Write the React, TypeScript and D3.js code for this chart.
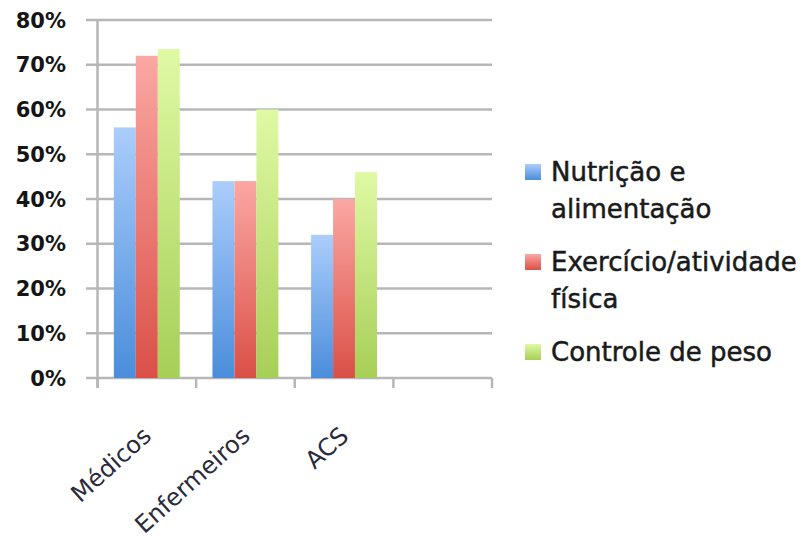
import React from "react";
import * as d3 from "d3";

const categories = ["Médicos", "Enfermeiros", "ACS", ""];
const seriesNames = ["Nutrição e alimentação", "Exercício/atividade física", "Controle de peso"];
const legendLines = [["Nutrição e", "alimentação"], ["Exercício/atividade", "física"], ["Controle de peso"]];
const nutricao = [0.56, 0.44, 0.32];
const exercicio = [0.72, 0.44, 0.40];
const controle = [0.735, 0.60, 0.46];
const yTicks = [0, 0.1, 0.2, 0.3, 0.4, 0.5, 0.6, 0.7, 0.8];

const seriesValues = [nutricao, exercicio, controle];
const colors = [
  { top: "#abcdfb", bottom: "#4a8ddb" },
  { top: "#fba7a3", bottom: "#da5047" },
  { top: "#e0f9a4", bottom: "#a6cf57" },
];

const W = 803, H = 543;
const plotLeft = 97.5, plotRight = 492, plotTop = 20, plotBottom = 378;

export default function App() {
  const x = d3.scaleBand<string>().domain(categories).range([plotLeft, plotRight]).paddingInner(0).paddingOuter(0);
  const xi = d3.scaleBand<string>().domain(seriesNames).range([0, x.bandwidth()]).paddingInner(0).paddingOuter(0.744);
  const y = d3.scaleLinear().domain([0, 0.8]).range([plotBottom, plotTop]);
  const fmt = d3.format(".0%");
  const tickXs = categories.map((c) => x(c) as number).concat([plotRight]);

  return (
    <svg width={W} height={H} style={{ position: "absolute", left: 0, top: 0, background: "#fff" }}>
      <defs>
        {colors.map((c, i) => (
          <linearGradient key={i} id={`g${i}`} x1="0" y1="0" x2="0" y2="1">
            <stop offset="0" stopColor={c.top} />
            <stop offset="1" stopColor={c.bottom} />
          </linearGradient>
        ))}
      </defs>
      {/* gridlines */}
      {yTicks.map((t) => (
        <line key={t} x1={86} x2={plotRight} y1={y(t)} y2={y(t)} stroke="#b7b7b7" strokeWidth={2.5} />
      ))}
      {/* y axis */}
      <line x1={plotLeft} x2={plotLeft} y1={plotTop} y2={plotBottom + 10} stroke="#b7b7b7" strokeWidth={2.5} />
      {tickXs.map((tx, i) => (
        <line key={i} x1={tx} x2={tx} y1={plotBottom} y2={plotBottom + 10} stroke="#b7b7b7" strokeWidth={2.5} />
      ))}
      {/* bars */}
      {seriesValues.map((vals, si) =>
        vals.map((v, ci) => (
          <rect
            key={`${si}-${ci}`}
            x={(x(categories[ci]) as number) + (xi(seriesNames[si]) as number)}
            y={y(v)}
            width={xi.bandwidth()}
            height={plotBottom - y(v)}
            fill={`url(#g${si})`}
          />
        ))
      )}
      {/* y labels */}
      {yTicks.map((t) => (
        <text key={t} x={66} y={y(t)} dy="0.36em" textAnchor="end" fontFamily="DejaVu Sans" fontWeight="bold" fontSize={21} fill="#151515">
          {fmt(t)}
        </text>
      ))}
      {/* x labels */}
      {categories.map((c) =>
        c ? (
          <text
            key={c}
            transform={`translate(${(x(c) as number) + x.bandwidth() / 2 + 6},438) rotate(-42)`}
            textAnchor="end"
            fontFamily="DejaVu Sans"
            fontSize={24}
            fill="#2a2a3a"
          >
            {c}
          </text>
        ) : null
      )}
      {/* legend */}
      {legendLines.map((lines, i) => {
        const cy = 172 + i * 90;
        return (
          <g key={i}>
            <rect x={525} y={cy - 8} width={16} height={16} fill={`url(#g${i})`} />
            {lines.map((l, j) => (
              <text key={j} x={551} y={cy + 9 + j * 37} fontFamily="DejaVu Sans" fontSize={26} fill="#1a1a1a" stroke="#1a1a1a" strokeWidth={0.5}>
                {l}
              </text>
            ))}
          </g>
        );
      })}
    </svg>
  );
}
